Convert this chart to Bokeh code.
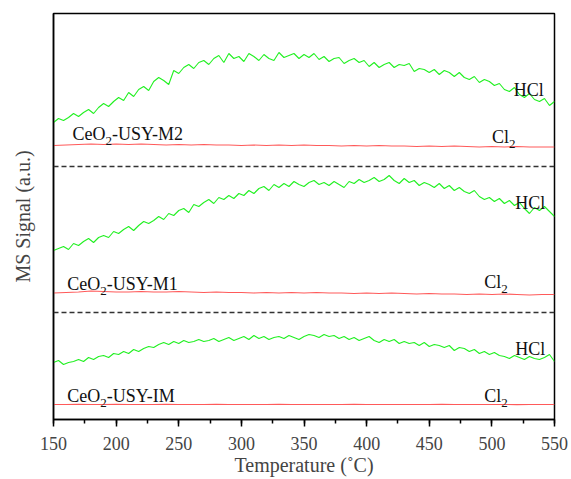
from bokeh.plotting import figure
from bokeh.models import SingleIntervalTicker, FixedTicker, Span
from bokeh.core.properties import value
from bokeh.embed import file_html
from bokeh.resources import INLINE

# ---------------- data ----------------
temp_hcl = list(range(150, 551, 4))      # 101 points
temp_cl2 = list(range(150, 551, 10))     # 41 points

hcl_m2 = [297, 301, 299, 302, 306, 303, 307, 310, 306, 312,
          316, 313, 318, 322, 319, 327, 323, 330, 333, 329,
          338, 342, 339, 335, 349, 346, 352, 355, 351, 357,
          359, 355, 361, 364, 357, 366, 361, 363, 358, 366,
          363, 359, 365, 361, 359, 367, 362, 364, 366, 361,
          365, 362, 366, 360, 363, 358, 361, 362, 356, 359,
          361, 357, 359, 353, 357, 352, 355, 357, 352, 355,
          354, 356, 348, 351, 350, 347, 350, 345, 349, 347,
          343, 347, 342, 340, 343, 337, 340, 338, 334, 336,
          330, 328, 332, 325, 322, 326, 320, 318, 321, 314,
          318]
cl2_m2 = [274, 274.5, 275, 275.5, 275, 275.5, 275, 275.5, 275, 274.5,
          275, 274.5, 275, 274.5, 274.5, 274, 274.5, 274, 274.5, 274,
          274.5, 274, 274, 273.5, 274, 273.5, 274, 273.5, 273.5, 273,
          273.5, 273, 273.5, 273, 272.5, 273, 272.5, 273, 272.5, 272.5,
          272.5]

hcl_m1 = [169, 171, 173, 170, 176, 174, 178, 181, 177, 182,
          184, 182, 188, 186, 190, 193, 189, 194, 198, 196,
          199, 203, 200, 206, 204, 209, 211, 207, 215, 213,
          217, 220, 216, 222, 220, 224, 221, 226, 224, 229,
          226, 231, 233, 229, 235, 232, 236, 233, 238, 235,
          233, 237, 239, 235, 237, 234, 238, 235, 232, 238,
          236, 240, 237, 239, 242, 238, 240, 244, 239, 236,
          241, 237, 239, 234, 237, 235, 232, 236, 231, 234,
          229, 232, 228, 226, 229, 223, 220, 222, 218, 221,
          216, 219, 214, 217, 211, 206, 212, 209, 213, 208,
          203]
cl2_m1 = [126.5, 127, 127.5, 128.5, 128, 127.5, 127.5, 128, 127.5, 127.5,
          128, 127.5, 127, 127.5, 127, 127, 126.5, 127, 126.5, 127,
          126.5, 127, 126.5, 126.5, 126, 126.5, 126, 126.5, 126, 125.5,
          126, 125.5, 125.5, 125, 125.5, 125, 125.5, 125, 124.5, 125,
          125]

hcl_im = [57, 59, 55, 57, 58, 60, 58, 62, 60, 63,
          64, 62, 66, 65, 68, 66, 70, 68, 71, 73,
          72, 75, 77, 75, 78, 76, 79, 77, 78, 80,
          78, 79, 81, 78, 80, 82, 79, 81, 83, 80,
          84, 81, 83, 80, 82, 83, 81, 84, 82, 80,
          83, 85, 84, 82, 85, 83, 84, 81, 83, 80,
          82, 79, 81, 83, 79, 77, 80, 78, 80, 76,
          78, 76, 77, 74, 77, 73, 75, 74, 72, 74,
          69, 72, 71, 68, 70, 66, 68, 65, 67, 64,
          63, 61, 64, 62, 60, 63, 61, 60, 62, 65,
          58]
cl2_im = [15, 15, 15.2, 15, 15, 15.1, 15, 15, 15, 15.1,
          15, 15, 15, 15.1, 15, 15, 15, 15, 15.1, 15,
          15, 15, 15, 15, 15.1, 15, 15, 15, 15, 15,
          15, 15.1, 15, 15, 15, 15, 15, 14.9, 15, 15,
          15]

separators = [253, 107]

# sample labels: (temperature, signal) anchor of the text baseline
sample_names = ["-USY-M2", "-USY-M1", "-USY-IM"]
sample_pos = [(165.2, 285.7), (161.0, 135.7), (161.0, 24.0)]
hcl_pos = [(517.5, 329.7), (518.7, 216.7), (518.7, 70.7)]
cl2_pos = [(500.0, 282.3), (494.0, 137.3), (494.0, 23.3)]

GREEN = "#22f022"
RED = "#ff5a5a"
FONT = "Liberation Serif"

p = figure(width=571, height=479, output_backend="svg", toolbar_location=None,
           x_range=(150, 550), y_range=(0, 406),
           min_border_left=53, min_border_right=17, min_border_top=13, min_border_bottom=60)
p.background_fill_color = "white"
p.border_fill_color = "white"
p.grid.visible = False
p.outline_line_color = "black"
p.outline_line_width = 1.5

for hcl in (hcl_m2, hcl_m1, hcl_im):
    p.line(temp_hcl, hcl, line_color=GREEN, line_width=1.1)
for cl2 in (cl2_m2, cl2_m1, cl2_im):
    p.line(temp_cl2, cl2, line_color=RED, line_width=1.1)

for s in separators:
    p.add_layout(Span(location=s, dimension="width", line_color="#333333",
                      line_width=1.3, line_dash="5 3"))

xa = p.xaxis[0]
xa.ticker = SingleIntervalTicker(interval=50, num_minor_ticks=2)
xa.axis_label = "Temperature (\u02daC)"
xa.axis_label_text_font = FONT
xa.axis_label_text_font_size = "20px"
xa.axis_label_text_font_style = "normal"
xa.axis_label_standoff = 1
xa.major_label_text_font = FONT
xa.major_label_text_font_size = "18px"
xa.major_label_standoff = 10
xa.major_tick_in = 0
xa.major_tick_out = 7
xa.minor_tick_in = 0
xa.minor_tick_out = 4
xa.axis_line_width = 1.5
xa.major_tick_line_width = 1.5
xa.minor_tick_line_width = 1.5

ya = p.yaxis[0]
ya.ticker = FixedTicker(ticks=[])
ya.axis_label = "MS Signal (a.u.)"
ya.axis_label_text_font = FONT
ya.axis_label_text_font_size = "20px"
ya.axis_label_text_font_style = "normal"
ya.axis_label_standoff = 20
ya.major_tick_in = 0
ya.major_tick_out = 0
ya.minor_tick_in = 0
ya.minor_tick_out = 0
ya.axis_line_width = 1.5

big = value("18px")
small = value("13px")
fnt = value(FONT)

def txt(x, y, s, size, dx=0, dy=0):
    p.text(x=[x], y=[y], text=[s], text_font=fnt, text_font_size=size,
           text_color="#111111", text_baseline="alphabetic", text_align="left",
           x_offset=dx, y_offset=dy)

for (x, y), name in zip(sample_pos, sample_names):
    txt(x, y, "CeO", big)
    txt(x, y, "2", small, dx=33, dy=7)
    txt(x, y, name, big, dx=39.5)

for (x, y) in hcl_pos:
    txt(x, y, "HCl", big)

for (x, y) in cl2_pos:
    txt(x, y, "Cl", big)
    txt(x, y, "2", small, dx=17, dy=7)

open("out.html", "w").write(file_html(p, INLINE))
